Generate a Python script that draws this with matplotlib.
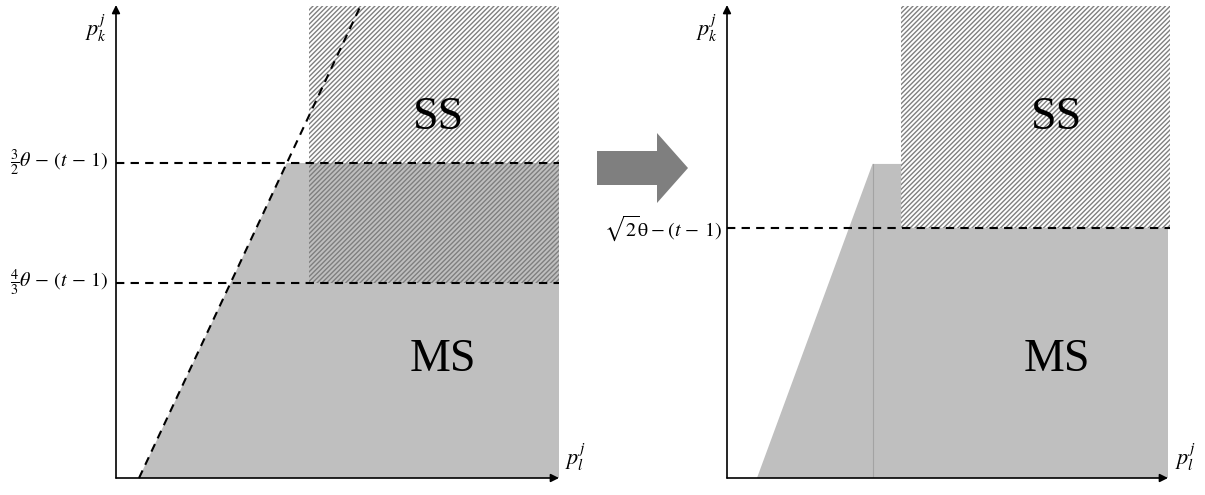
import numpy as np
import matplotlib
matplotlib.use('Agg')
import matplotlib.pyplot as plt
from matplotlib.patches import FancyArrow

plt.rcParams['mathtext.fontset'] = 'stix'
plt.rcParams['hatch.linewidth'] = 1.0

# both panels use axis units 0-100 on x and y
# left panel
left_levels = [66.6, 41.2]
left_level_labels = [r'$\frac{3}{2}\theta\,-\,(t\,-\,1)$', r'$\frac{4}{3}\theta\,-\,(t\,-\,1)$']
left_diag_x = [5.2, 55.3]
left_diag_y = [0, 100]
left_ss_x = [43.6, 100]
left_ss_y = [41.2, 99.8]
left_right_edge = 100

# right panel
right_level = 52.9
right_level_label = r'$\sqrt{2}\mathrm{θ}-(t\,-\,1)$'
right_ms_x = [6.8, 33.0, 39.5, 39.5, 100.5, 100.5]
right_ms_y = [0, 66.4, 66.4, 52.9, 52.9, 0]
right_ss_x = [39.5, 100.5]
right_ss_y = [52.9, 99.8]
right_split_x = 33.0

region_text = ['SS', 'MS']
left_text_pos = [(72.7, 76.1), (73.8, 24.9)]
right_text_pos = [(74.8, 76.1), (74.9, 24.9)]

gray = '#bfbfbf'
hatch_col = '#7f7f7f'

fig = plt.figure(figsize=(12.05, 4.95), dpi=100)
axL = fig.add_axes([116/1205, 17/495, 443/1205, 473/495])
axR = fig.add_axes([727/1205, 17/495, 441/1205, 473/495])


def axes_arrows(ax, xlabel_off):
    for end in [(100, 0), (0, 100)]:
        ax.annotate('', xy=end, xytext=(0, 0), annotation_clip=False,
                    arrowprops=dict(arrowstyle='-|>', color='black', lw=1.2,
                                    mutation_scale=12, shrinkA=0, shrinkB=0))
    ax.text(-2.0, 98.5, r'$p_k^j$', ha='right', va='top', fontsize=16)
    ax.text(100 + xlabel_off, 1.0, r'$p_l^j$', ha='left', va='bottom', fontsize=16)


def setup(ax):
    ax.set_xlim(0, 100)
    ax.set_ylim(0, 100)
    ax.axis('off')


# ---- left panel
setup(axL)
# gray region below the upper level and right of the dashed diagonal
x_top = np.interp(left_levels[0], left_diag_y, left_diag_x)
axL.fill([left_diag_x[0], x_top, left_right_edge, left_right_edge],
         [0, left_levels[0], left_levels[0], 0], color=gray, lw=0, zorder=1)
axL.fill_between(left_ss_x, left_ss_y[0], left_ss_y[1], facecolor='none',
                 edgecolor=hatch_col, hatch='///////', lw=0, zorder=2)
for lv in left_levels:
    axL.plot([0, left_right_edge], [lv, lv], color='black', lw=1.5,
             ls=(0, (4, 3)), zorder=3)
axL.plot(left_diag_x, left_diag_y, color='black', lw=1.5, ls=(0, (4, 3)),
         zorder=3, clip_on=False)
for lv, lab in zip(left_levels, left_level_labels):
    axL.text(-1.8, lv, lab, ha='right', va='center', fontsize=14.5)
for t, (x, y) in zip(region_text, left_text_pos):
    axL.text(x, y, t, ha='center', va='center', fontsize=33,
             family='Liberation Serif', zorder=4)
axes_arrows(axL, 1.3)

# ---- right panel
setup(axR)
axR.fill(right_ms_x, right_ms_y, color=gray, lw=0, zorder=1)
axR.plot([right_split_x, right_split_x], [0, right_ms_y[1]], color='#a3a3a3',
         lw=0.8, zorder=1.5)
axR.fill_between(right_ss_x, right_ss_y[0], right_ss_y[1], facecolor='none',
                 edgecolor=hatch_col, hatch='///////', lw=0, zorder=2,
                 clip_on=False)
axR.plot([0, right_ss_x[1]], [right_level, right_level], color='black', lw=1.5,
         ls=(0, (4, 3)), zorder=3, clip_on=False)
axR.text(-1.2, right_level, right_level_label, ha='right', va='center',
         fontsize=14.5)
for t, (x, y) in zip(region_text, right_text_pos):
    axR.text(x, y, t, ha='center', va='center', fontsize=33,
             family='Liberation Serif', zorder=4)
axes_arrows(axR, 1.6)

# ---- block arrow between the panels (figure pixel space)
axO = fig.add_axes([0, 0, 1, 1])
axO.set_xlim(0, 1205)
axO.set_ylim(495, 0)
axO.axis('off')
axO.add_patch(FancyArrow(597, 168, 91, 0, width=34, head_width=70,
                         head_length=31, length_includes_head=True,
                         color='#7f7f7f', lw=0))

fig.savefig('out.png', dpi=100)
